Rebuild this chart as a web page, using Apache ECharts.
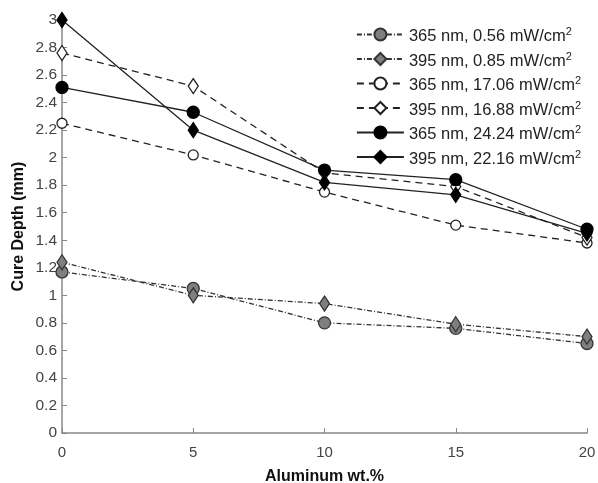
<!DOCTYPE html>
<html>
<head>
<meta charset="utf-8">
<script src="https://cdn.jsdelivr.net/npm/echarts@6/dist/echarts.min.js"></script>
<style>html,body{margin:0;padding:0;background:#fff}#c{width:598px;height:483px}</style>
</head>
<body>
<div id="c"></div>
<script>
var xValues = [0, 5, 10, 15, 20];
var seriesNames = ['365 nm, 0.56 mW/cm', '395 nm, 0.85 mW/cm', '365 nm, 17.06 mW/cm', '395 nm, 16.88 mW/cm', '365 nm, 24.24 mW/cm', '395 nm, 22.16 mW/cm'];
var s365_056 = [1.17, 1.05, 0.80, 0.76, 0.65];
var s395_085 = [1.24, 1.00, 0.94, 0.79, 0.70];
var s365_1706 = [2.25, 2.02, 1.75, 1.51, 1.38];
var s395_1688 = [2.76, 2.52, 1.89, 1.79, 1.42];
var s365_2424 = [2.51, 2.33, 1.91, 1.84, 1.48];
var s395_2216 = [3.00, 2.20, 1.82, 1.73, 1.45];
var xTicks = [0, 5, 10, 15, 20];
var yTicks = [0, 0.2, 0.4, 0.6, 0.8, 1, 1.2, 1.4, 1.6, 1.8, 2, 2.2, 2.4, 2.6, 2.8, 3];

var allData = [s365_056, s395_085, s365_1706, s395_1688, s365_2424, s395_2216];
var styles = [
  {symbol:'circle', size:12, fill:'#7f7f7f', border:'#333', line:'#333', type:[5,2,1,2]},
  {symbol:'diamond', size:[10,15], fill:'#7f7f7f', border:'#333', line:'#333', type:[5,2,1,2]},
  {symbol:'circle', size:10, fill:'#fff', border:'#222', line:'#222', type:[7,5]},
  {symbol:'diamond', size:[10,15], fill:'#fff', border:'#222', line:'#222', type:[7,5]},
  {symbol:'circle', size:12, fill:'#000', border:'#000', line:'#222', type:'solid'},
  {symbol:'diamond', size:[10,15], fill:'#000', border:'#000', line:'#222', type:'solid'}
];

function pair(arr){ return xValues.map(function(x,i){ return [x, arr[i]]; }); }

var series = allData.map(function(d, i){
  var st = styles[i];
  return {
    name: seriesNames[i],
    type: 'line',
    data: pair(d),
    symbol: st.symbol,
    symbolSize: st.size,
    showAllSymbol: true,
    lineStyle: {color: st.line, width: 1.3, type: st.type},
    itemStyle: {color: st.fill, borderColor: st.border, borderWidth: 1.3},
    emphasis: {disabled: true},
    animation: false
  };
});

var F = 'Liberation Sans, Arial, sans-serif';
var chart = echarts.init(document.getElementById('c'));
chart.setOption({
  animation: false,
  backgroundColor: '#fff',
  grid: {left: 62, right: 11, top: 20, bottom: 50, containLabel: false, outerBoundsMode: 'none'},
  legend: {
    orient: 'vertical',
    right: 12,
    top: 19,
    itemWidth: 47,
    itemHeight: 15,
    itemGap: 3.5,
    data: seriesNames,
    textStyle: {
      fontFamily: F,
      fontSize: 16.5,
      color: '#222',
      rich: {
        a: {fontFamily: F, fontSize: 16.5, color: '#222', lineHeight: 16, padding: [4,0,0,0]},
        sup: {fontFamily: F, fontSize: 11, color: '#222', lineHeight: 10, padding: [0,0,6,0], verticalAlign: 'top'}
      }
    },
    formatter: function(n){ return '{a|' + n + '}{sup|2}'; }
  },
  xAxis: {
    type: 'value',
    min: 0, max: 20, interval: 5,
    name: 'Aluminum wt.%',
    nameLocation: 'middle',
    nameGap: 36,
    nameMoveOverlap: false,
    nameTextStyle: {fontFamily: F, fontSize: 16, fontWeight: 'bold', color: '#111'},
    axisLine: {lineStyle: {color: '#888', width: 1.5}},
    axisTick: {inside: true, length: 5, lineStyle: {color: '#888'}},
    axisLabel: {fontFamily: F, fontSize: 15, color: '#444', margin: 12},
    splitLine: {show: false}
  },
  yAxis: {
    type: 'value',
    min: 0, max: 3, interval: 0.2,
    name: 'Cure Depth (mm)',
    nameLocation: 'middle',
    nameGap: 35,
    nameMoveOverlap: false,
    nameRotate: 90,
    nameTextStyle: {fontFamily: F, fontSize: 16, fontWeight: 'bold', color: '#111'},
    axisLine: {show: true, lineStyle: {color: '#888', width: 1.5}},
    axisTick: {show: true, inside: true, length: 5, lineStyle: {color: '#888'}},
    axisLabel: {fontFamily: F, fontSize: 15.5, color: '#444', margin: 5,
      formatter: function(v){ var r = Math.round(v*10)/10; return yTicks.indexOf(r) >= 0 ? String(r) : ''; }},
    splitLine: {show: false}
  },
  series: series
});
</script>
</body>
</html>
